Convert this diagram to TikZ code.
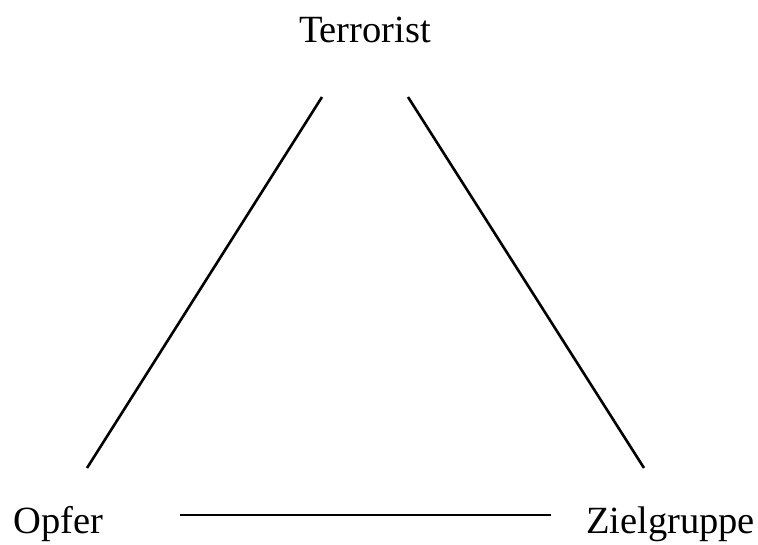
\documentclass[tikz,border=0pt]{standalone}
\usepackage{fontspec}
\setmainfont{Liberation Serif}
\begin{document}
\begin{tikzpicture}[x=1pt,y=-1pt,
  lbl/.style={inner sep=0pt,font=\fontsize{38.5}{44}\selectfont},
  edge/.style={line width=2.6pt}]
\useasboundingbox (0,0) rectangle (758,545);
\node[lbl,anchor=base] (t) at (365,43) {Terrorist};
\node[lbl,anchor=base] (o) at (58.5,533) {Opfer};
\node[lbl,anchor=base] (z) at (670.5,533) {Zielgruppe};
\coordinate (t1) at (322,97);
\coordinate (o1) at (87,468);
\coordinate (t2) at (408,97);
\coordinate (z1) at (644,468);
\coordinate (o2) at (180,515);
\coordinate (z2) at (551,515);
\draw[edge] (t1) -- (o1);
\draw[edge] (t2) -- (z1);
\draw[edge] (o2) -- (z2);
\end{tikzpicture}
\end{document}
